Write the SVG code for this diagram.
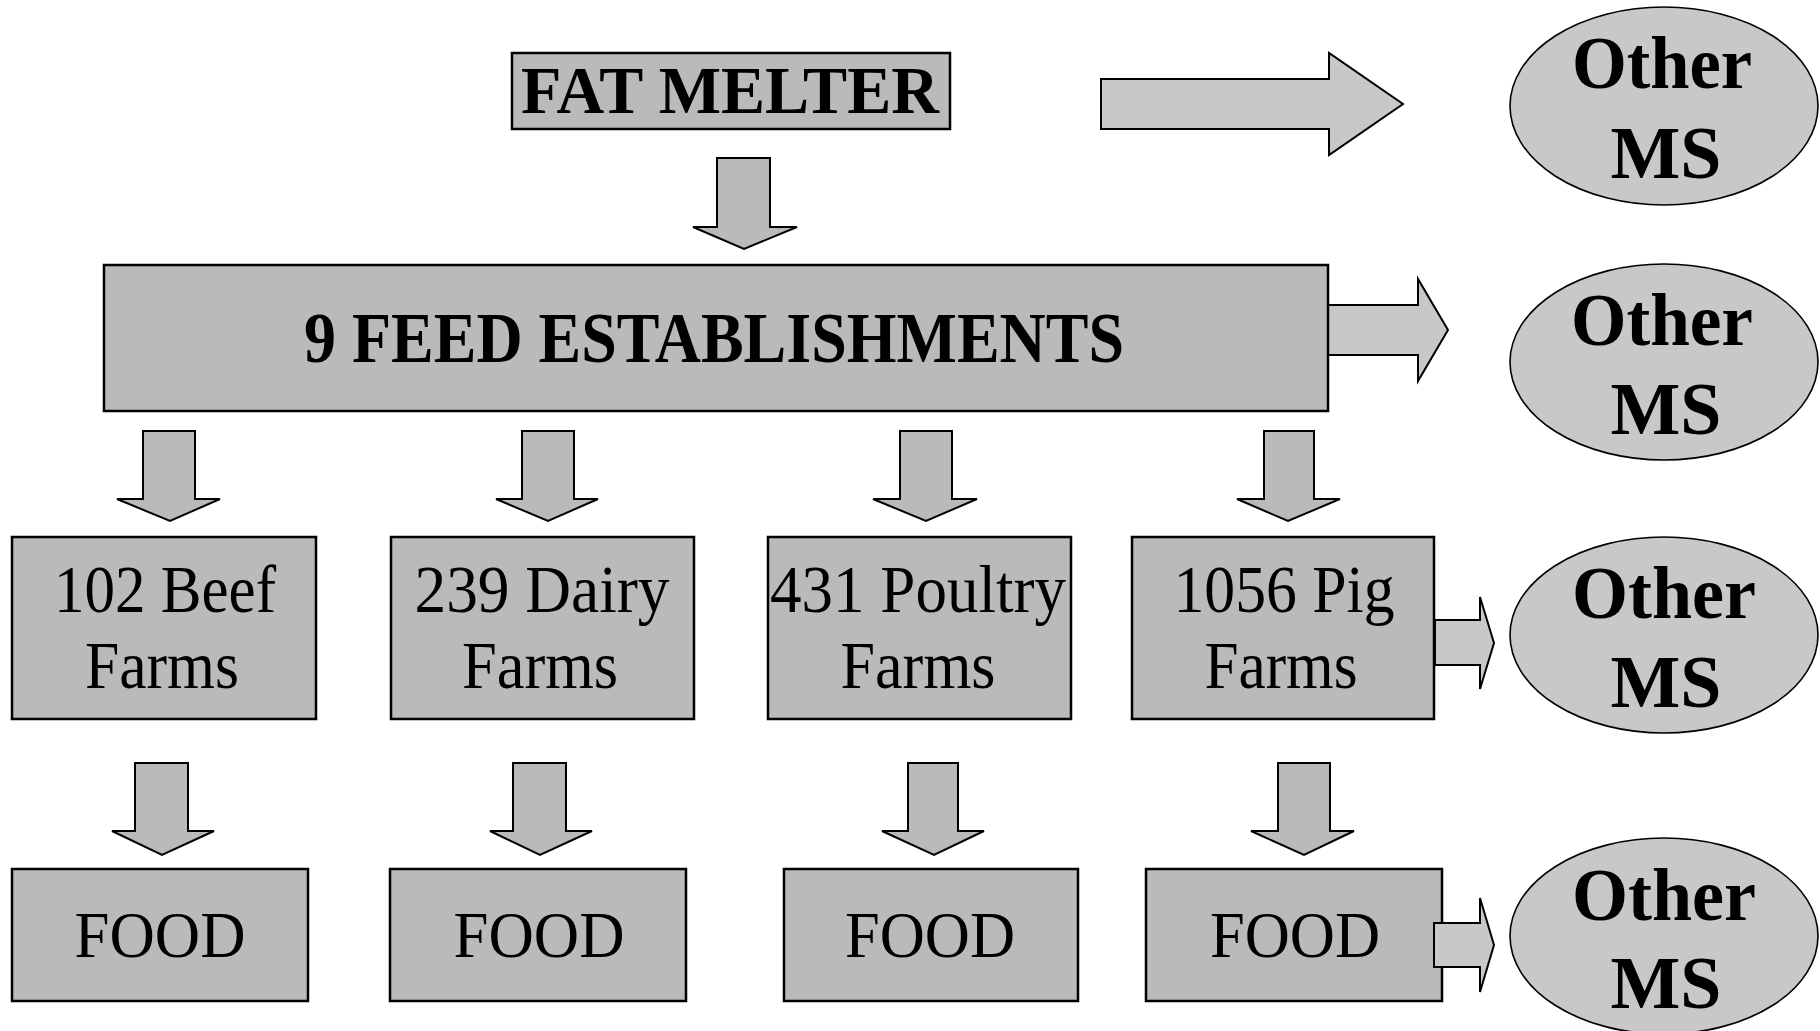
<svg xmlns="http://www.w3.org/2000/svg" width="1820" height="1031" viewBox="0 0 1820 1031">
<style>
.box{fill:#bababa;stroke:#000;stroke-width:2.5}
.ell{fill:#c8c8c8;stroke:#000;stroke-width:1.6}
.dn{fill:#bababa;stroke:#000;stroke-width:2;stroke-linejoin:miter}
.rt{fill:#c8c8c8;stroke:#000;stroke-width:2;stroke-linejoin:miter}
.tb{font-family:"Liberation Serif","Times New Roman",serif;font-weight:bold;fill:#000;text-anchor:middle}
.tr{font-family:"Liberation Serif","Times New Roman",serif;fill:#000;text-anchor:middle}
.farm{font-size:68px}
.food{font-size:65px}
.ms{font-size:75px}
</style>
<rect width="1820" height="1031" fill="#fff"/>
<g id="connectors">
<polygon class="dn" points="717,158 770,158 770,227 797,227 744,249 693,227 717,227"/>
<polygon class="rt" points="1101,79 1329,79 1329,53 1403,104 1329,155 1329,129 1101,129"/>
<polygon class="rt" points="1328,305 1418,305 1418,279 1448,330 1418,381 1418,355 1328,355"/>
<polygon class="dn" points="143,431 195,431 195,499 220,499 170,521 117,499 143,499"/>
<polygon class="dn" points="522,431 574,431 574,499 598,499 548,521 496,499 522,499"/>
<polygon class="dn" points="900,431 952,431 952,499 977,499 926,521 873,499 900,499"/>
<polygon class="dn" points="1264,431 1314,431 1314,499 1340,499 1288,521 1237,499 1264,499"/>
<polygon class="rt" points="1435,620 1480,620 1480,597 1494,643 1480,689 1480,665 1435,665"/>
<polygon class="dn" points="135,763 188,763 188,831 214,831 162,855 112,831 135,831"/>
<polygon class="dn" points="513,763 566,763 566,831 592,831 540,855 490,831 513,831"/>
<polygon class="dn" points="908,763 958,763 958,831 984,831 934,855 882,831 908,831"/>
<polygon class="dn" points="1278,763 1330,763 1330,831 1354,831 1304,855 1251,831 1278,831"/>
</g>
<g id="fat-melter">
<rect class="box" x="512" y="53" width="438" height="76"/>
<text class="tb" x="730" y="113" font-size="68" textLength="418" lengthAdjust="spacingAndGlyphs">FAT MELTER</text>
</g>
<g id="feed-establishments">
<rect class="box" x="104" y="265" width="1224" height="146"/>
<text class="tb" x="714" y="362" font-size="72" textLength="820" lengthAdjust="spacingAndGlyphs">9 FEED ESTABLISHMENTS</text>
</g>
<g id="beef-farms">
<rect class="box" x="12" y="537" width="304" height="182"/>
<text class="tr farm" x="165" y="612" textLength="222" lengthAdjust="spacingAndGlyphs">102 Beef</text>
<text class="tr farm" x="162" y="688" textLength="154" lengthAdjust="spacingAndGlyphs">Farms</text>
</g>
<g id="dairy-farms">
<rect class="box" x="391" y="537" width="303" height="182"/>
<text class="tr farm" x="542" y="612" textLength="255" lengthAdjust="spacingAndGlyphs">239 Dairy</text>
<text class="tr farm" x="540" y="688" textLength="156" lengthAdjust="spacingAndGlyphs">Farms</text>
</g>
<g id="poultry-farms">
<rect class="box" x="768" y="537" width="303" height="182"/>
<text class="tr farm" x="918" y="612" textLength="296" lengthAdjust="spacingAndGlyphs">431 Poultry</text>
<text class="tr farm" x="918" y="688" textLength="155" lengthAdjust="spacingAndGlyphs">Farms</text>
</g>
<g id="pig-farms">
<rect class="box" x="1132" y="537" width="302" height="182"/>
<text class="tr farm" x="1284" y="612" textLength="221" lengthAdjust="spacingAndGlyphs">1056 Pig</text>
<text class="tr farm" x="1281" y="688" textLength="153" lengthAdjust="spacingAndGlyphs">Farms</text>
</g>
<g id="food-1">
<rect class="box" x="12" y="869" width="296" height="132"/>
<text class="tr food" x="160" y="957" textLength="171" lengthAdjust="spacingAndGlyphs">FOOD</text>
</g>
<g id="food-2">
<rect class="box" x="390" y="869" width="296" height="132"/>
<text class="tr food" x="539" y="957" textLength="171" lengthAdjust="spacingAndGlyphs">FOOD</text>
</g>
<g id="food-3">
<rect class="box" x="784" y="869" width="294" height="132"/>
<text class="tr food" x="930" y="957" textLength="170" lengthAdjust="spacingAndGlyphs">FOOD</text>
</g>
<g id="food-4">
<rect class="box" x="1146" y="869" width="296" height="132"/>
<text class="tr food" x="1295" y="957" textLength="170" lengthAdjust="spacingAndGlyphs">FOOD</text>
</g>
<g id="food-4-out">
<polygon class="rt" points="1434,923 1480,923 1480,898 1494,945 1480,992 1480,967 1434,967"/>
</g>
<g id="other-ms-1">
<ellipse class="ell" cx="1664" cy="106" rx="154" ry="99"/>
<text class="tb ms" x="1662" y="88" textLength="180" lengthAdjust="spacingAndGlyphs">Other</text>
<text class="tb ms" x="1666" y="178" textLength="111" lengthAdjust="spacingAndGlyphs">MS</text>
</g>
<g id="other-ms-2">
<ellipse class="ell" cx="1664" cy="362" rx="154" ry="98"/>
<text class="tb ms" x="1662" y="345" textLength="182" lengthAdjust="spacingAndGlyphs">Other</text>
<text class="tb ms" x="1666" y="434" textLength="111" lengthAdjust="spacingAndGlyphs">MS</text>
</g>
<g id="other-ms-3">
<ellipse class="ell" cx="1664" cy="635" rx="154" ry="98"/>
<text class="tb ms" x="1664" y="618" textLength="184" lengthAdjust="spacingAndGlyphs">Other</text>
<text class="tb ms" x="1666" y="707" textLength="111" lengthAdjust="spacingAndGlyphs">MS</text>
</g>
<g id="other-ms-4">
<ellipse class="ell" cx="1664" cy="936" rx="154" ry="98"/>
<text class="tb ms" x="1664" y="920" textLength="184" lengthAdjust="spacingAndGlyphs">Other</text>
<text class="tb ms" x="1666" y="1008" textLength="111" lengthAdjust="spacingAndGlyphs">MS</text>
</g>
</svg>
